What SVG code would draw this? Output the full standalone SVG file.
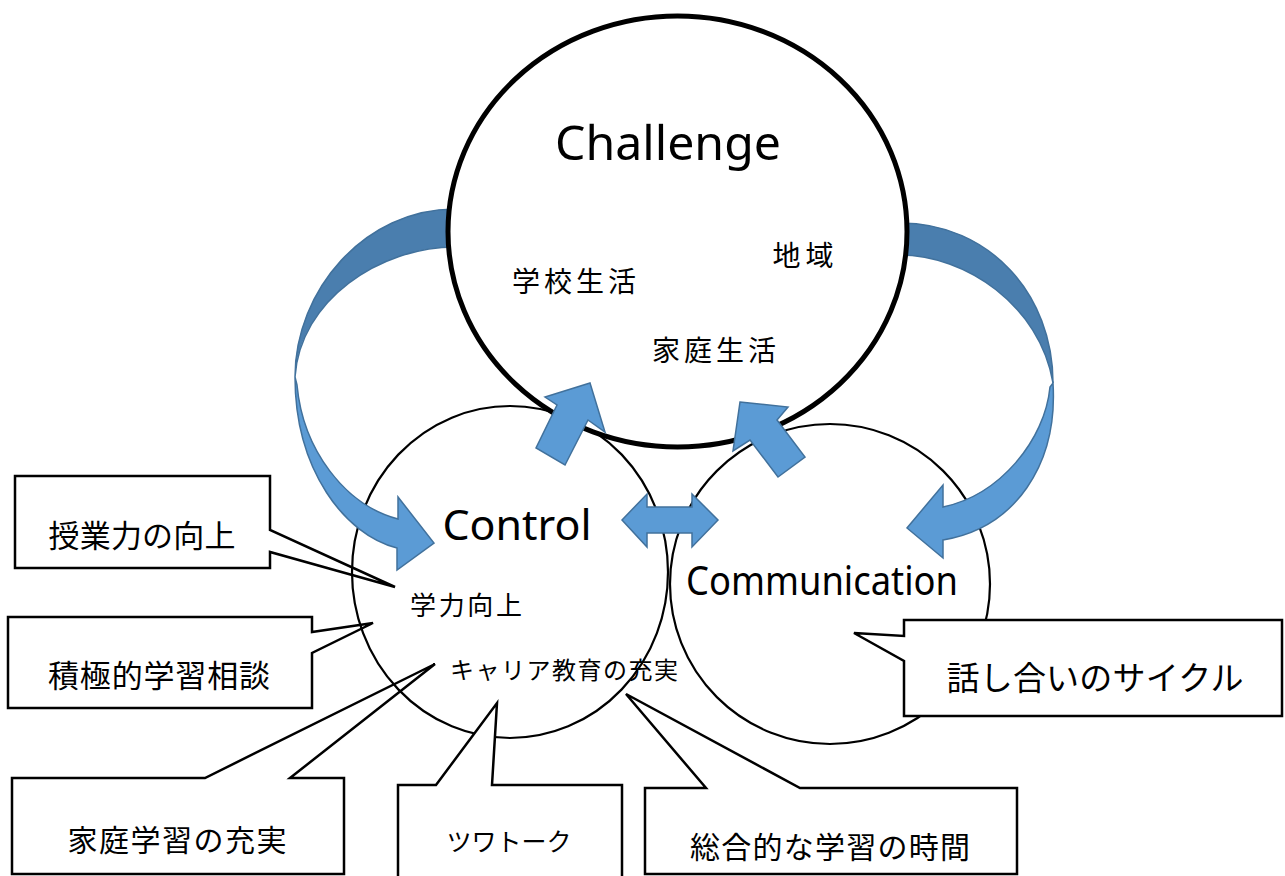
<svg xmlns="http://www.w3.org/2000/svg" width="1285" height="876" viewBox="0 0 1285 876">
<style>
.co{fill:#fff;stroke:#000;stroke-width:2.5;stroke-linejoin:miter}
.sc{fill:none;stroke:#000;stroke-width:2.2}
.arr{fill:#5b9bd5;stroke:#41719c;stroke-width:1.5;stroke-linejoin:miter}
.arrd{fill:#4a7eae;stroke:#41719c;stroke-width:1.5}
.jp{font-family:"Noto Sans CJK JP","Noto Sans",sans-serif;fill:#000;text-anchor:middle;dominant-baseline:central}
.en{font-family:"Noto Sans","Liberation Sans",sans-serif;fill:#000}
</style>
<rect width="1285" height="876" fill="#fff"/>
<g id="callout-jugyo">
<path class="co" d="M15,476 L270,476 L270,530 L395,587 L270,552 L270,568 L15,568 Z"/>
<text class="jp" x="142" y="533" font-size="31" textLength="187" lengthAdjust="spacing">授業力の向上</text>
</g>
<g id="callout-sekkyoku">
<path class="co" d="M8,617 L312,617 L312,632 L373,623 L312,653 L312,708 L8,708 Z"/>
<text class="jp" x="159" y="673" font-size="31" textLength="222" lengthAdjust="spacing">積極的学習相談</text>
</g>
<g id="callout-katei">
<path class="co" d="M12,778 L205,778 L435,664 L290,778 L344,778 L344,874 L12,874 Z"/>
<text class="jp" x="177" y="838" font-size="30" textLength="219" lengthAdjust="spacing">家庭学習の充実</text>
</g>
<g id="control">
<ellipse class="sc" cx="510" cy="572" rx="158" ry="166"/>
<text class="en" x="517" y="540" font-size="41" text-anchor="middle" textLength="149" lengthAdjust="spacingAndGlyphs">Control</text>
<text class="jp" x="466" y="603" font-size="26" textLength="112" lengthAdjust="spacing">学力向上</text>
<text class="jp" x="564" y="668" font-size="24" textLength="228" lengthAdjust="spacing">キャリア教育の充実</text>
</g>
<g id="communication">
<ellipse class="sc" cx="830" cy="584" rx="160" ry="160"/>
<text class="en" x="822" y="595" font-size="40" text-anchor="middle" textLength="272" lengthAdjust="spacingAndGlyphs">Communication</text>
</g>
<g id="connectors">
<path class="arrd" d="M455,209 C365,209 295,290 295,377 C300,300 380,247 455,247 Z"/>
<path class="arr" d="M295,377 C295,470 345,535 397,548 L397,570 L434,543 L398,497 L398,519 C345,505 303,450 297,385 Z"/>
<path class="arrd" d="M900,223 C990,223 1053,295 1053,383 C1040,305 965,255 900,255 Z"/>
<path class="arr" d="M1053,383 C1058,465 1015,528 943,540 L943,558 L907,528 L943,485 L943,507 C1000,495 1045,440 1050,387 Z"/>
</g>
<g id="challenge">
<ellipse cx="677.5" cy="231.5" rx="229.5" ry="215.5" fill="#fff" stroke="#000" stroke-width="5"/>
<text class="en" x="668" y="160" font-size="48" text-anchor="middle" textLength="226" lengthAdjust="spacingAndGlyphs">Challenge</text>
<text class="jp" x="574" y="280" font-size="28" textLength="124" lengthAdjust="spacing">学校生活</text>
<text class="jp" x="803" y="254" font-size="28" textLength="61" lengthAdjust="spacing">地域</text>
<text class="jp" x="714" y="349" font-size="28" textLength="124" lengthAdjust="spacing">家庭生活</text>
</g>
<g id="arrows-up">
<path class="arr" d="M590,383 L605,432 L588,420 L565,465 L536,448 L557,405 L545,397 Z"/>
<path class="arr" d="M740,402 L788,407 L777,420 L805,457 L778,477 L750,440 L733,451 Z"/>
<path class="arr" d="M622,520 L647,494 L647,507 L692,507 L692,494 L718,520 L692,547 L692,533 L647,533 L647,547 Z"/>
</g>
<g id="callout-tsuwa">
<path class="co" d="M398,785 L436,785 L497,703 L492,785 L622,785 L622,880 L398,880 Z"/>
<text class="jp" x="509" y="840" font-size="25" textLength="125" lengthAdjust="spacing">ツワトーク</text>
</g>
<g id="callout-sogo">
<path class="co" d="M645,788 L706,788 L626,694 L800,788 L1017,788 L1017,874 L645,874 Z"/>
<text class="jp" x="830" y="845" font-size="30" textLength="280" lengthAdjust="spacing">総合的な学習の時間</text>
</g>
<g id="callout-hanashiai">
<path class="co" d="M904,620 L1282,620 L1282,716 L904,716 L904,661 L854,633 L904,636 Z"/>
<text class="jp" x="1095" y="676" font-size="33" textLength="297" lengthAdjust="spacing">話し合いのサイクル</text>
</g>
</svg>
